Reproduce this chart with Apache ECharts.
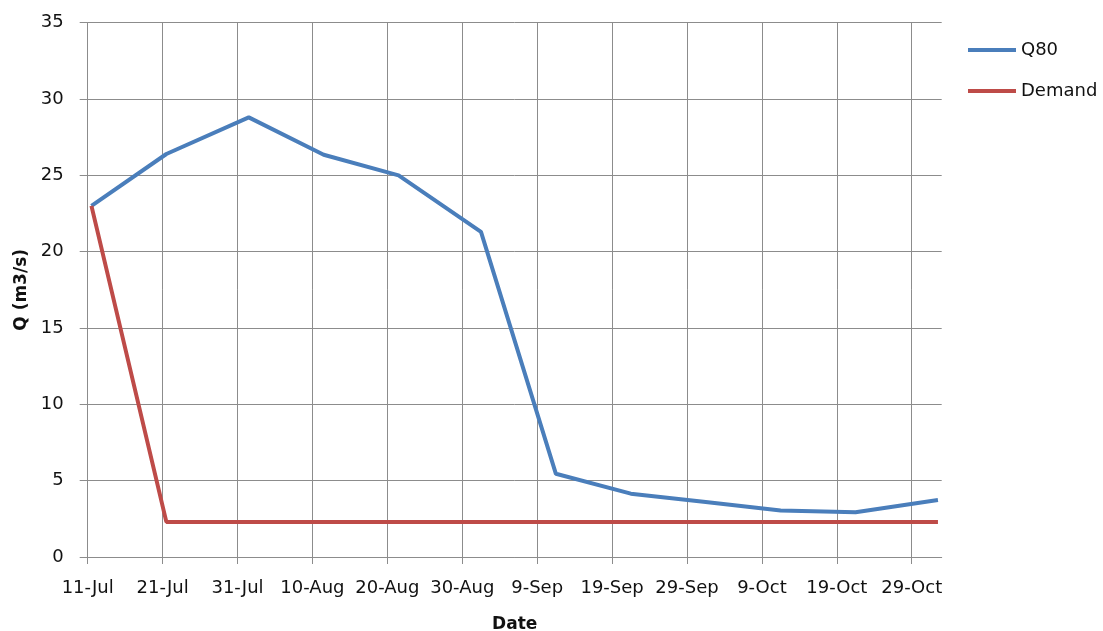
<!DOCTYPE html>
<html>
<head>
<meta charset="utf-8">
<script src="https://cdn.jsdelivr.net/npm/echarts@6/dist/echarts.min.js"></script>
<style>
html,body{margin:0;padding:0;background:#fff;}
#chart{width:1103px;height:631px;}
</style>
</head>
<body>
<div id="chart"></div>
<script>
// Data (dekadal dates)
const dates = ['2013-07-11','2013-07-21','2013-08-01','2013-08-11','2013-08-21','2013-09-01',
               '2013-09-11','2013-09-21','2013-10-01','2013-10-11','2013-10-21','2013-11-01'];
const q80 = [23.0, 26.4, 28.8, 26.35, 25.0, 21.3, 5.45, 4.15, 3.6, 3.05, 2.93, 3.73];
const demand = [23.0, 2.3, 2.3, 2.3, 2.3, 2.3, 2.3, 2.3, 2.3, 2.3, 2.3, 2.3];
const seriesNames = ['Q80', 'Demand'];
const xAxisTitle = 'Date';
const yAxisTitle = 'Q (m3/s)';
const axisStartDate = '2013-07-11';
const axisEndDate = '2013-11-02';
const monthNames = ['Jan','Feb','Mar','Apr','May','Jun','Jul','Aug','Sep','Oct','Nov','Dec'];

const DAY = 86400000;
const base = Date.parse(axisStartDate + 'T00:00:00Z');
const toDay = s => Math.round((Date.parse(s + 'T00:00:00Z') - base) / DAY);
const fmtDay = d => {
  const dt = new Date(base + d * DAY);
  return dt.getUTCDate() + '-' + monthNames[dt.getUTCMonth()];
};
const xMax = toDay(axisEndDate);
// each date occupies a one-day slot on the axis; points sit in the middle of their slot
const slotCenter = 0.5;

const font = 'DejaVu Sans';
const textColor = '#111';
const gridColor = '#8c8c8c';
const lineColors = [];
for (let i = 0; i < 12; i++) lineColors.push(gridColor);
lineColors.push('rgba(0,0,0,0)');

const chart = echarts.init(document.getElementById('chart'), null, {renderer: 'canvas'});
chart.setOption({
  animation: false,
  backgroundColor: '#fff',
  textStyle: {fontFamily: font},
  grid: {left: 87.7, right: 161.3, top: 22.7, bottom: 74, containLabel: false, outerBoundsMode: 'none'},
  legend: {
    orient: 'vertical',
    left: 968, top: 41, padding: 0,
    itemWidth: 48, itemHeight: 4, itemGap: 23,
    icon: 'rect',
    textStyle: {fontFamily: font, fontSize: 18, color: textColor},
    data: seriesNames
  },
  xAxis: {
    type: 'value', min: 0, max: xMax, interval: 10,
    name: xAxisTitle, nameLocation: 'middle', nameGap: 59,
    nameTextStyle: {fontFamily: font, fontSize: 17, fontWeight: 'bold', color: textColor},
    axisLine: {show: true, onZero: false, lineStyle: {color: gridColor, width: 1}},
    axisTick: {show: true, inside: false, length: 7, lineStyle: {color: gridColor}},
    axisLabel: {
      margin: 22, fontSize: 18, color: textColor, fontFamily: font, showMaxLabel: false,
      formatter: v => (v % 10 === 0 ? fmtDay(v) : '')
    },
    splitLine: {show: true, lineStyle: {color: lineColors, width: 1}}
  },
  yAxis: {
    type: 'value', min: 0, max: 35, interval: 5,
    name: yAxisTitle, nameLocation: 'middle', nameGap: 53, nameRotate: 90,
    nameTextStyle: {fontFamily: font, fontSize: 17, fontWeight: 'bold', color: textColor},
    axisLine: {show: true, lineStyle: {color: gridColor, width: 1}},
    axisTick: {show: true, inside: false, length: 8, lineStyle: {color: gridColor}},
    axisLabel: {margin: 24, fontSize: 18, color: textColor, fontFamily: font, padding: [8, 0, 0, 0]},
    splitLine: {show: true, lineStyle: {color: gridColor, width: 1}}
  },
  series: [
    {
      name: seriesNames[0], type: 'line', symbol: 'none',
      lineStyle: {color: '#4A7EBB', width: 4}, itemStyle: {color: '#4A7EBB'},
      data: dates.map((d, i) => [toDay(d) + slotCenter, q80[i]])
    },
    {
      name: seriesNames[1], type: 'line', symbol: 'none',
      lineStyle: {color: '#BE4B48', width: 4}, itemStyle: {color: '#BE4B48'},
      data: dates.map((d, i) => [toDay(d) + slotCenter, demand[i]])
    }
  ]
});
</script>
</body>
</html>
